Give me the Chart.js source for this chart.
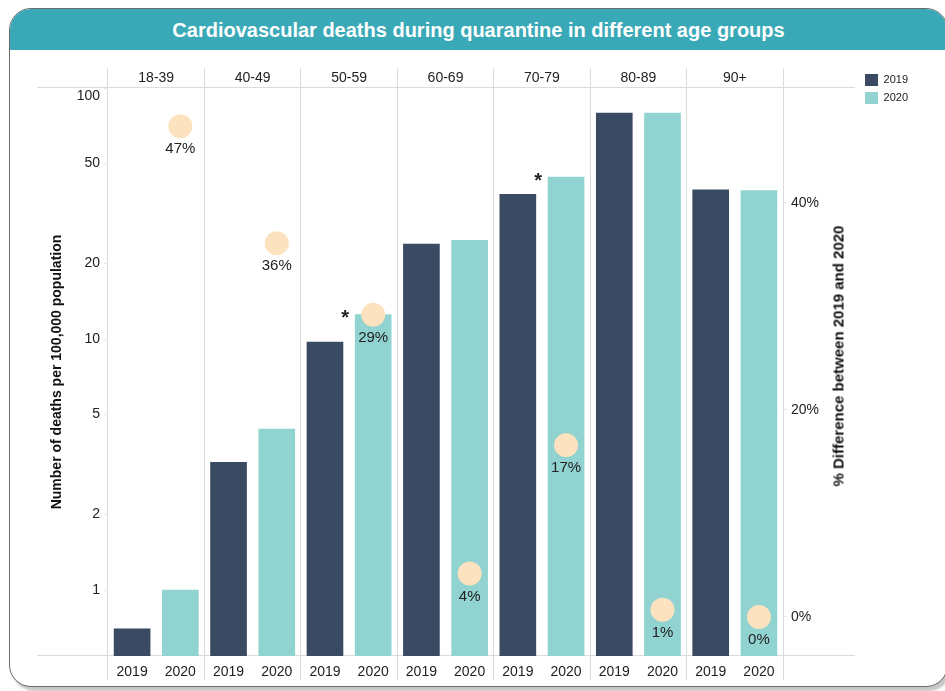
<!DOCTYPE html>
<html>
<head>
<meta charset="utf-8">
<title>Cardiovascular deaths during quarantine</title>
<script src="https://cdn.jsdelivr.net/npm/chart.js@4.4.1/dist/chart.umd.min.js"></script>
<style>
    html, body { margin: 0; padding: 0; background: #fff; }
    body { width: 945px; height: 691px; position: relative; overflow: hidden; font-family: "Liberation Sans", Arial, sans-serif; }
    .card { position: absolute; left: 9px; top: 8px; width: 937px; height: 677px; border: 1px solid #6b6b6b; border-radius: 22px; box-shadow: 3px 4px 2px rgba(0, 0, 0, 0.22); overflow: hidden; background: #fff; }
    .card-title { height: 41px; background: #3aa9b7; color: #fff; font-weight: bold; font-size: 20px; line-height: 43px; text-align: center; }
    #chart { position: absolute; left: 0; top: 0; }
    .y1-title { position: absolute; left: 838px; top: 356px; transform: translate(-50%, -50%) rotate(-90deg); white-space: nowrap; font-weight: bold; font-size: 15px; color: #111; }
</style>
</head>
<body>
<div class="card"><div class="card-title">Cardiovascular deaths during quarantine in different age groups</div></div>
<canvas id="chart" width="945" height="691"></canvas>
<div class="y1-title">% Difference between 2019 and 2020</div>
<script>
const ageGroups = ['18-39', '40-49', '50-59', '60-69', '70-79', '80-89', '90+'];
const years = ['2019', '2020'];
const deaths2019 = [0.70, 3.23, 9.73, 23.9, 37.7, 79.5, 39.3];
const deaths2020 = [1.0, 4.38, 12.5, 24.7, 44.2, 79.5, 39.0];
const pctDiff = [47.4, 36.1, 29.2, 4.2, 16.6, 0.7, 0];
const significant = [false, false, true, false, true, false, false];
const deathTicks = [1, 2, 5, 10, 20, 50, 100];
const pctTicks = [0, 20, 40];

const colors = {
    navy: '#3a4a63',
    teal: '#91d3d0',
    peach: '#fde2bf',
    grid: '#dcdcdc',
    tick: '#e6e6e6',
    text: '#222'
};

Chart.defaults.font.family = '"Liberation Sans", Arial, sans-serif';
Chart.defaults.color = colors.text;

// one slot per bar: 2019, 2020, 2019, 2020 ...
const barLabels = ageGroups.flatMap(() => years);
const inSlot = (values, slot) => barLabels.map((_, i) => (i % 2 === slot ? values[Math.floor(i / 2)] : null));

const frameLines = {
    id: 'frameLines',
    beforeDatasetsDraw(chart) {
        const { ctx, chartArea: area } = chart;
        ctx.save();
        ctx.strokeStyle = colors.grid;
        ctx.lineWidth = 1;
        [area.top, area.bottom].forEach((y) => {
            const py = Math.round(y) - 0.5;
            ctx.beginPath();
            ctx.moveTo(area.left - 71, py);
            ctx.lineTo(area.right + 72, py);
            ctx.stroke();
        });
        ctx.restore();
    }
};

const annotations = {
    id: 'annotations',
    afterDatasetsDraw(chart) {
        const { ctx } = chart;
        const points = chart.getDatasetMeta(2).data;
        const bars2020 = chart.getDatasetMeta(1).data;
        ctx.save();
        ctx.fillStyle = colors.text;
        ctx.textAlign = 'center';
        ageGroups.forEach((group, i) => {
            const point = points[2 * i + 1];
            ctx.font = '15px "Liberation Sans", Arial, sans-serif';
            ctx.textBaseline = 'middle';
            ctx.fillText(Math.round(pctDiff[i]) + '%', point.x, point.y + 23);
            if (significant[i]) {
                const bar = bars2020[2 * i + 1];
                ctx.font = 'bold 20px "Liberation Sans", Arial, sans-serif';
                ctx.textBaseline = 'alphabetic';
                ctx.fillText('*', bar.x - 28, bar.y + 9.5);
            }
        });
        ctx.restore();
    }
};

new Chart(document.getElementById('chart'), {
    type: 'bar',
    data: {
        labels: barLabels,
        datasets: [
            {
                label: '2019',
                data: inSlot(deaths2019, 0),
                backgroundColor: colors.navy,
                grouped: false,
                barThickness: 36,
                yAxisID: 'y'
            },
            {
                label: '2020',
                data: inSlot(deaths2020, 1),
                backgroundColor: colors.teal,
                grouped: false,
                barThickness: 36,
                yAxisID: 'y'
            },
            {
                type: 'line',
                label: '% difference',
                data: inSlot(pctDiff, 1),
                yAxisID: 'y1',
                showLine: false,
                pointRadius: 12,
                pointHoverRadius: 12,
                pointBorderWidth: 0,
                pointBackgroundColor: colors.peach,
                order: -1
            }
        ]
    },
    options: {
        responsive: false,
        animation: false,
        layout: { padding: { left: 45, right: 27, top: 68, bottom: 11 } },
        plugins: {
            legend: {
                position: 'right',
                align: 'start',
                labels: {
                    filter: (item) => item.datasetIndex < 2,
                    boxWidth: 13,
                    boxHeight: 12,
                    padding: 6,
                    font: { size: 11 },
                    color: colors.text
                }
            },
            tooltip: { enabled: false }
        },
        scales: {
            x: {
                position: 'bottom',
                offset: true,
                grid: {
                    offset: true,
                    drawOnChartArea: false,
                    tickLength: 24,
                    color: (c) => (c.index === undefined || c.index % 2 === 0 ? colors.grid : 'rgba(0,0,0,0)')
                },
                border: { display: false },
                ticks: { padding: -16, font: { size: 14 }, maxRotation: 0, autoSkip: false },
                afterFit: (scale) => { scale.height = 24; }
            },
            x2: {
                type: 'category',
                labels: ageGroups,
                position: 'top',
                offset: true,
                grid: { offset: true, tickLength: 20, color: colors.grid },
                border: { display: false },
                ticks: { padding: -19, font: { size: 14 }, maxRotation: 0, autoSkip: false },
                afterFit: (scale) => { scale.height = 20; }
            },
            y: {
                type: 'logarithmic',
                position: 'left',
                min: 0.546,
                max: 100,
                afterBuildTicks: (scale) => { scale.ticks = deathTicks.map((value) => ({ value })); },
                // the top label sits just under the frame line, as in the source
                ticks: { callback: (value) => (value === 100 ? ['', '100'] : String(value)), font: { size: 14 }, padding: 4 },
                grid: { drawOnChartArea: false, tickLength: 4, color: colors.tick },
                border: { display: false },
                title: {
                    display: true,
                    text: 'Number of deaths per 100,000 population',
                    font: { size: 14, weight: 'bold' },
                    color: '#111'
                },
                afterFit: (scale) => { scale.width = 63; }
            },
            y1: {
                type: 'linear',
                position: 'right',
                min: -3.77,
                max: 51.1,
                afterBuildTicks: (scale) => { scale.ticks = pctTicks.map((value) => ({ value })); },
                ticks: { callback: (value) => value + '%', font: { size: 14 }, padding: 4 },
                grid: { drawOnChartArea: false, tickLength: 4, color: colors.tick },
                border: { display: false },
                afterFit: (scale) => { scale.width = 76; }
            }
        }
    },
    plugins: [frameLines, annotations]
});
</script>
</body>
</html>
